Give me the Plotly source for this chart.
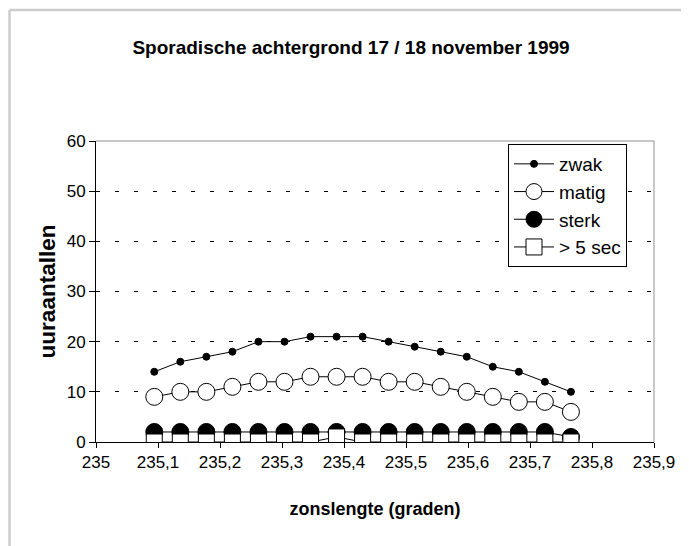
import plotly.graph_objects as go

# solar longitude (degrees)
zonslengte = [235.094, 235.136, 235.178, 235.220, 235.262, 235.304, 235.346, 235.388,
              235.430, 235.472, 235.514, 235.556, 235.598, 235.640, 235.682, 235.724, 235.766]
zwak = [14, 16, 17, 18, 20, 20, 21, 21, 21, 20, 19, 18, 17, 15, 14, 12, 10]
matig = [9, 10, 10, 11, 12, 12, 13, 13, 13, 12, 12, 11, 10, 9, 8, 8, 6]
sterk = [2, 2, 2, 2, 2, 2, 2, 2, 2, 2, 2, 2, 2, 2, 2, 2, 1]
langer_5sec = [0, 0, 0, 0, 0, 0, 0, 1, 0, 0, 0, 0, 0, 0, 0, 0, 0]

x_ticks = [235, 235.1, 235.2, 235.3, 235.4, 235.5, 235.6, 235.7, 235.8, 235.9]
x_ticklabels = ["235", "235,1", "235,2", "235,3", "235,4", "235,5", "235,6", "235,7", "235,8", "235,9"]
y_ticks = [0, 10, 20, 30, 40, 50, 60]

FONT = "Liberation Sans, Arial, sans-serif"

# page has an 8px body margin, so the figure is laid out 8px smaller
W, H = 681, 538
L, T, R, B = 88, 133, 35, 104
PW, PH = W - L - R, H - T - B

fig = go.Figure()
fig.add_trace(go.Scatter(x=zonslengte, y=zwak, name="zwak", mode="lines+markers", legendgroup="a",
                         line=dict(color="black", width=1),
                         marker=dict(symbol="circle", size=7, color="black", line=dict(color="black", width=1))))
fig.add_trace(go.Scatter(x=zonslengte, y=matig, name="matig", mode="lines+markers", legendgroup="b",
                         line=dict(color="black", width=1),
                         marker=dict(symbol="circle", size=17, color="white", line=dict(color="black", width=1))))
fig.add_trace(go.Scatter(x=zonslengte, y=sterk, name="sterk", mode="lines+markers", legendgroup="c",
                         line=dict(color="black", width=1),
                         marker=dict(symbol="circle", size=17, color="black", line=dict(color="black", width=1))))
fig.add_trace(go.Scatter(x=zonslengte, y=langer_5sec, name="> 5 sec", mode="lines+markers", legendgroup="d",
                         line=dict(color="black", width=1),
                         marker=dict(symbol="square", size=16, color="white", line=dict(color="black", width=1))))

bx = (1.5 - L) / PW
by = 1 + (T - 2) / PH
fig.update_layout(
    width=W, height=H,
    margin=dict(l=L, r=R, t=T, b=B),
    paper_bgcolor="white", plot_bgcolor="white",
    font=dict(family=FONT, color="black", size=17),
    title=dict(text="<b>Sporadische achtergrond 17 / 18 november 1999</b>",
               x=(343 - L) / PW, xanchor="center", xref="paper", y=1 - 39 / H, yanchor="middle",
               font=dict(family=FONT, size=19, color="black")),
    showlegend=True,
    legend=dict(x=(500 - L) / PW, xanchor="left", y=1 - 3 / PH, yanchor="top",
                bgcolor="white", bordercolor="black", borderwidth=1,
                font=dict(family=FONT, size=19, color="black"),
                traceorder="grouped", tracegroupgap=0, itemwidth=40),
    shapes=[
        dict(type="line", xref="paper", yref="paper", x0=bx, x1=bx,
             y0=by, y1=-1, line=dict(color="#cccccc", width=2.5)),
        dict(type="line", xref="paper", yref="paper", x0=bx, x1=2,
             y0=by, y1=by, line=dict(color="#cccccc", width=2.5)),
        dict(type="line", xref="paper", yref="paper", x0=0, x1=1, y0=1, y1=1,
             line=dict(color="#909090", width=1), layer="below"),
        dict(type="line", xref="paper", yref="paper", x0=1, x1=1, y0=0, y1=1,
             line=dict(color="#909090", width=1), layer="below"),
    ],
)

fig.update_xaxes(range=[235, 235.9], tickvals=x_ticks, ticktext=x_ticklabels,
                 showgrid=False, zeroline=False, showline=True, linecolor="black", linewidth=1,
                 ticks="outside", ticklen=5, tickcolor="black", tickwidth=1,
                 tickfont=dict(family=FONT, size=17, color="black"),
                 title=dict(text="<b>zonslengte (graden)</b>", standoff=30,
                            font=dict(family=FONT, size=18, color="black")))
fig.update_yaxes(range=[0, 60], tickvals=y_ticks,
                 showgrid=True, gridcolor="black", griddash="4px,15px", gridwidth=1,
                 zeroline=False, showline=True, linecolor="black", linewidth=1,
                 ticks="outside", ticklen=6, tickcolor="black", tickwidth=1,
                 tickfont=dict(family=FONT, size=17, color="black"),
                 title=dict(text="<b>uuraantallen</b>", standoff=4,
                            font=dict(family=FONT, size=22.5, color="black")))

fig.write_html("out.html")
